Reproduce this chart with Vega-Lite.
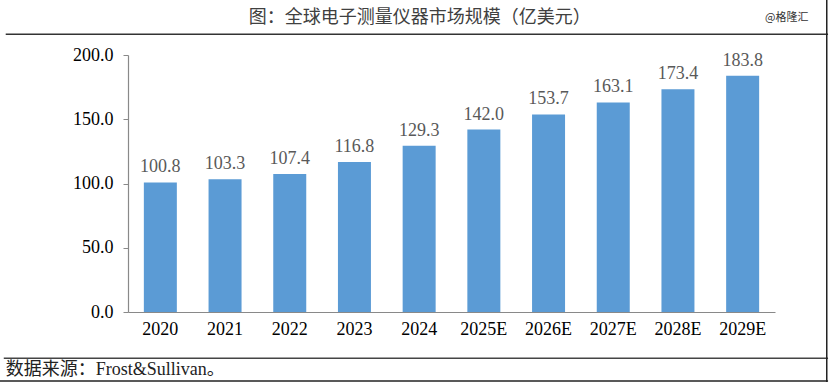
{
  "$schema": "https://vega.github.io/schema/vega-lite/v6.json",
  "width": 647,
  "height": 257,
  "autosize": "none",
  "padding": {"left": 128, "top": 55, "right": 55, "bottom": 71},
  "background": "white",
  "config": {"view": {"stroke": null}, "font": "Liberation Serif"},
  "resolve": {"scale": {"x": "independent"}},
  "layer": [
    {
      "data": {"values": [
        {"year": "2020", "value": 100.8},
        {"year": "2021", "value": 103.3},
        {"year": "2022", "value": 107.4},
        {"year": "2023", "value": 116.8},
        {"year": "2024", "value": 129.3},
        {"year": "2025E", "value": 142.0},
        {"year": "2026E", "value": 153.7},
        {"year": "2027E", "value": 163.1},
        {"year": "2028E", "value": 173.4},
        {"year": "2029E", "value": 183.8}
      ]},
      "encoding": {
        "x": {"field": "year", "type": "nominal", "sort": null,
              "scale": {"paddingInner": 0.49, "paddingOuter": 0.245},
              "axis": {"title": null, "labelAngle": 0, "ticks": false, "domainColor": "#898989", "domainWidth": 1.2,
                       "labelFont": "Liberation Serif", "labelFontSize": 18, "labelColor": "#000000", "labelPadding": 8}},
        "y": {"field": "value", "type": "quantitative",
              "scale": {"domain": [0, 200], "nice": false, "zero": true},
              "axis": {"title": null, "values": [0, 50, 100, 150, 200], "format": ".1f", "grid": false,
                       "domainColor": "#898989", "domainWidth": 1.2, "tickColor": "#898989", "tickSize": 5,
                       "labelFont": "Liberation Serif", "labelFontSize": 18, "labelColor": "#000000", "labelPadding": 10}}
      },
      "layer": [
        {"mark": {"type": "bar", "color": "#5B9BD5"}},
        {"mark": {"type": "text", "baseline": "bottom", "dy": -6, "font": "Liberation Serif", "fontSize": 18, "color": "#595959"},
         "encoding": {"text": {"field": "value", "type": "quantitative", "format": ".1f"}}}
      ]
    },
    {
      "data": {"values": [{}]},
      "layer": [
        {"mark": {"type": "rule", "color": "#333333", "strokeWidth": 1.5},
         "encoding": {"y": {"datum": 216.1, "type": "quantitative"},
                      "x": {"datum": -0.189, "type": "quantitative", "scale": {"domain": [0, 1], "nice": false, "zero": false}, "axis": null},
                      "x2": {"datum": 1.082}}},
        {"mark": {"type": "rule", "color": "#444444", "strokeWidth": 1.5},
         "encoding": {"y": {"datum": -36.0, "type": "quantitative"},
                      "x": {"datum": -0.192, "type": "quantitative"},
                      "x2": {"datum": 1.082}}},
        {"mark": {"type": "rule", "color": "#222222", "strokeWidth": 1.5},
         "encoding": {"y": {"datum": -53.7, "type": "quantitative"},
                      "x": {"datum": -0.198, "type": "quantitative"},
                      "x2": {"datum": 1.082}}},
        {"mark": {"type": "rule", "color": "#222222", "strokeWidth": 1.5},
         "encoding": {"x": {"datum": 1.08, "type": "quantitative"},
                      "y": {"datum": 242.8, "type": "quantitative"},
                      "y2": {"datum": -54.5}}},
        {"mark": {"type": "text", "align": "center", "baseline": "middle", "font": "Liberation Serif, Noto Sans CJK SC", "fontSize": 18, "color": "#404040"},
         "encoding": {"x": {"datum": 0.451, "type": "quantitative"},
                      "y": {"datum": 228.8, "type": "quantitative"},
                      "text": {"value": "图：全球电子测量仪器市场规模（亿美元）"}}},
        {"mark": {"type": "text", "align": "left", "baseline": "middle", "font": "Liberation Serif, Noto Sans CJK SC", "fontSize": 18, "color": "#222222"},
         "encoding": {"x": {"datum": -0.189, "type": "quantitative"},
                      "y": {"datum": -45.1, "type": "quantitative"},
                      "text": {"value": "数据来源：Frost&Sullivan。"}}},
        {"mark": {"type": "text", "align": "left", "baseline": "middle", "font": "Noto Sans CJK SC", "fontSize": 11, "color": "#333333"},
         "encoding": {"x": {"datum": 0.9845, "type": "quantitative"},
                      "y": {"datum": 228.8, "type": "quantitative"},
                      "text": {"value": "@格隆汇"}}}
      ]
    }
  ]
}
